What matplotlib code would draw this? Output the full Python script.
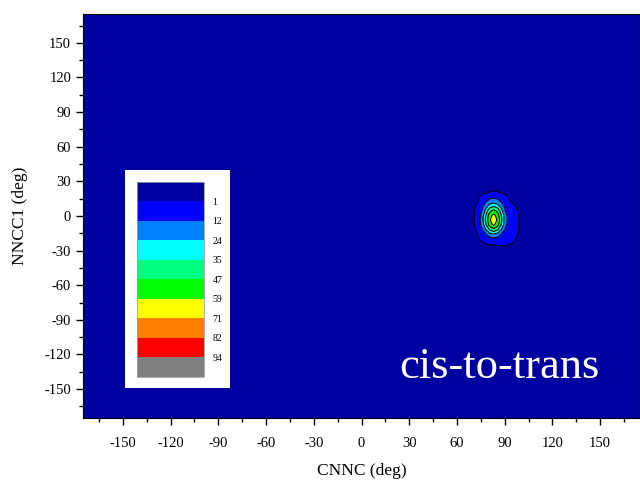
import numpy as np
import matplotlib
matplotlib.use("Agg")
import matplotlib.pyplot as plt
from matplotlib.colors import ListedColormap, BoundaryNorm
from matplotlib.colorbar import ColorbarBase
from matplotlib.patches import Rectangle

plt.rcParams['font.family'] = ['Liberation Serif', 'DejaVu Serif']
plt.rcParams['axes.unicode_minus'] = False

# population map (%) around the trans basin
cnnc = [68, 70.5, 73, 75.5, 78, 80.5, 83, 85.5, 88, 90.5, 93, 95.5, 98, 100.5, 103]
nncc1 = [24.5, 20.5, 16.5, 12.5, 8.5, 4.5, 0.5, -3.5, -7.5, -11.5, -15.5, -19.5, -23.5, -27.5]
pop = [
    [0, 0, 0, 0, 0.1, 0.3, 0.4, 0.3, 0.1, 0, 0, 0, 0, 0, 0],
    [0, 0, 0, 0.3, 0.6, 1.1, 1.3, 1.1, 0.6, 0.3, 0, 0, 0, 0, 0],
    [0, 0, 0.4, 1.8, 4.6, 8.0, 9.4, 8.0, 4.6, 1.8, 0.6, 0.1, 0, 0, 0],
    [0, 0.1, 0.8, 4.3, 10.1, 17, 20.1, 17, 10.1, 4.3, 1.2, 0.4, 0.1, 0, 0],
    [0, 0.2, 2.0, 8.1, 18.6, 29.5, 33.9, 29.5, 18.6, 8.1, 3.0, 1.5, 0.6, 0.1, 0],
    [0, 0.3, 3.2, 11.6, 27.6, 43.4, 50.5, 43.4, 27.6, 11.6, 4.5, 2.2, 1.0, 0.2, 0],
    [0, 0.4, 3.8, 15.7, 34.2, 53.5, 63, 53.5, 34.2, 15.7, 5.5, 2.8, 1.3, 0.3, 0],
    [0, 0.4, 4.0, 17, 37, 57, 70, 57, 37, 17, 6, 3, 1.4, 0.3, 0],
    [0, 0.4, 3.6, 15, 33.1, 52, 62, 52, 33.1, 15, 5.5, 3, 1.4, 0.3, 0],
    [0, 0.3, 2.6, 10.2, 24, 37, 44.5, 37, 24, 10.2, 4.5, 2.6, 1.3, 0.3, 0],
    [0, 0.1, 1.0, 5.3, 12.1, 21.4, 25, 21.4, 12.1, 5.3, 3.2, 2.0, 1.1, 0.2, 0],
    [0, 0, 0.5, 2.1, 5.1, 8.9, 10.3, 8.9, 5.1, 2.8, 2.2, 1.5, 0.7, 0.1, 0],
    [0, 0, 0.2, 0.6, 1.2, 1.4, 1.4, 1.5, 1.6, 1.6, 1.4, 0.9, 0.3, 0, 0],
    [0, 0, 0, 0.1, 0.2, 0.3, 0.3, 0.4, 0.5, 0.5, 0.4, 0.2, 0, 0, 0],
]

levels = [1, 12, 24, 35, 47, 59, 71, 82, 94]
colors = ['#0000A0', '#0000FF', '#0080FF', '#00FFFF', '#00FF80',
          '#00FF00', '#FFFF00', '#FF8000', '#FF0000', '#808080']

fig = plt.figure(figsize=(6.4, 4.83), dpi=100)
ax = fig.add_axes([0.1297, 0.1346, 0.8703, 0.8365])
ax.set_facecolor(colors[0])

X, Y = np.meshgrid(cnnc, nncc1)
Z = np.array(pop)
bounds = [-1] + levels + [101]
ax.contourf(X, Y, Z, levels=bounds, colors=colors)
ax.contour(X, Y, Z, levels=levels, colors='k', linewidths=0.8)

ax.set_xlim(-175, 175)
ax.set_ylim(-175, 175)
ax.set_xticks(np.arange(-150, 151, 30))
ax.set_yticks(np.arange(-150, 151, 30))
ax.set_xticks(np.arange(-165, 175, 15), minor=True)
ax.set_yticks(np.arange(-165, 175, 15), minor=True)
ax.tick_params(which='major', direction='out', length=5, width=1, labelsize=10.5)
ax.tick_params(which='minor', direction='out', length=3, width=1)
ax.tick_params(axis='x', which='major', pad=9)
ax.set_xlabel('CNNC (deg)', fontsize=12.5, labelpad=9)
ax.set_ylabel('NNCC1 (deg)', fontsize=12.5, labelpad=12)

ax.text(0.928, 0.10, 'cis-to-trans', transform=ax.transAxes, color='white',
        fontsize=32, ha='right', va='baseline')

# colour key in a white box
fig.patches.append(Rectangle((0.195, 0.197), 0.164, 0.451, transform=fig.transFigure,
                             facecolor='white', edgecolor='none', zorder=5))
cax = fig.add_axes([0.214, 0.2195, 0.105, 0.404], zorder=6)
cmap = ListedColormap(colors)
cb_bounds = [0] + levels + [105]
norm = BoundaryNorm(cb_bounds, cmap.N)
cb = ColorbarBase(cax, cmap=cmap, norm=norm, boundaries=cb_bounds,
                  spacing='uniform', ticks=levels)
cb.outline.set_edgecolor('#A0A0A0')
cb.outline.set_linewidth(0.6)
cax.invert_yaxis()
cax.minorticks_off()
cax.tick_params(which='both', length=0, labelsize=7, pad=6)

fig.savefig('out.png', dpi=100)
